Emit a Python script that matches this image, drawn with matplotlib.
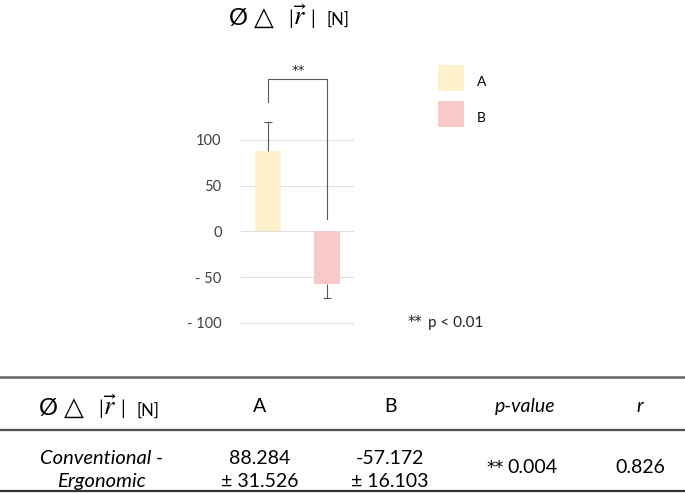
import matplotlib
matplotlib.use('Agg')
import matplotlib.pyplot as plt
from matplotlib.lines import Line2D
from matplotlib.patches import Rectangle
from matplotlib.legend_handler import HandlerPatch

plt.rcParams['font.family'] = ['Lato', 'DejaVu Sans']
plt.rcParams['mathtext.fontset'] = 'stix'

# ---- data ----
categories = ['A', 'B']
means = [88.284, -57.172]
sds = [31.526, 16.103]
bar_colors = ['#FFF1CE', '#F9C8C8']
yticks = [100, 50, 0, -50, -100]
ytick_labels = ['100', '50', '0', '- 50', '- 100']
row_label = ['Conventional -', 'Ergonomic']
p_value = 0.004
r_value = 0.826
sig_stars = '**'
sig_note = 'p < 0.01'

W, H = 685, 494
def fx(px):
    return px / W
def fy(py):
    return 1 - py / H

fig = plt.figure(figsize=(6.85, 4.94), dpi=100)
ax = fig.add_axes([fx(241), fy(336.5), fx(354) - fx(241), fy(71.2) - fy(336.5)])

xs = [0, 1]
bar_patches = []
for i in range(2):
    b = ax.bar(xs[i], means[i], width=0.44, color=bar_colors[i], label=categories[i], zorder=2)
    bar_patches.append(b.patches[0])

# one-sided error bars (cap only at the far end)
for i in range(2):
    if means[i] >= 0:
        yerr = [[0], [sds[i]]]
    else:
        yerr = [[sds[i]], [0]]
    eb = ax.errorbar(xs[i], means[i], yerr=yerr, fmt='none', ecolor='#595959',
                     elinewidth=0.8, capsize=2.6, capthick=0.8, zorder=3)
    for cap in eb[1]:
        if abs(cap.get_ydata()[0] - means[i]) < 1e-9:
            cap.set_visible(False)

ax.set_xlim(-0.467, 1.465)
ax.set_ylim(-115, 175)
ax.set_yticks(yticks)
ax.set_yticklabels(ytick_labels)
ax.set_xticks([])
ax.yaxis.grid(True, color='#E0E0E0', lw=0.8)
ax.set_axisbelow(True)
for s in ax.spines.values():
    s.set_visible(False)
ax.tick_params(axis='y', length=0, pad=14, labelsize=10.5, labelcolor='#404040')

# significance bracket
ax.plot([0, 0, 1, 1], [141.6, 167, 167, 13.8], color='#595959', lw=0.8,
        clip_on=False, zorder=4)
ax.text(0.51, 168.5, sig_stars, ha='center', va='bottom', fontsize=9.5, color='#222222',
        family='DejaVu Sans')

# legend with square handles
shift_pt = 3.76 * 72 / 100
def make_rect(legend, orig_handle, xdescent, ydescent, width, height, fontsize):
    return Rectangle((-xdescent, -ydescent + shift_pt), width, height)

ax.legend(handles=bar_patches, labels=categories, loc='upper left',
          bbox_to_anchor=(fx(438), fy(68.8)),
          bbox_transform=fig.transFigure, frameon=False, fontsize=10,
          handlelength=1.87, handleheight=2.5, handletextpad=0.94,
          labelspacing=0.72, borderpad=0, borderaxespad=0,
          handler_map={Rectangle: HandlerPatch(patch_func=make_rect)})

fig.text(fx(408), fy(327), sig_stars, fontsize=10.5, va='baseline', ha='left', color='#222222',
         family='DejaVu Sans')
fig.text(fx(428), fy(327), sig_note, fontsize=11, va='baseline', ha='left', color='#222222')

def rvec_label(x0, ybase):
    fig.text(fx(x0), fy(ybase), 'Ø', fontsize=17, va='baseline', ha='left')
    fig.text(fx(x0 + 25), fy(ybase), '△', fontsize=18.5, va='baseline', ha='left',
             family='DejaVu Sans')
    fig.text(fx(x0 + 59), fy(ybase), '|', fontsize=13.5, va='baseline', ha='left')
    fig.text(fx(x0 + 64), fy(ybase), r'$\vec{r}$', fontsize=19, va='baseline', ha='left')
    fig.text(fx(x0 + 81), fy(ybase), '|', fontsize=13.5, va='baseline', ha='left')
    fig.text(fx(x0 + 97), fy(ybase), '[N]', fontsize=12, va='baseline', ha='left')

rvec_label(229.3, 25)

# ---- table ----
fig.add_artist(Line2D([0, 1], [fy(376.5)] * 2, transform=fig.transFigure, color='#666666', lw=1.8))
fig.add_artist(Line2D([0, 1], [fy(429.5)] * 2, transform=fig.transFigure, color='#505050', lw=1.6))
fig.add_artist(Line2D([0, 1], [fy(491)] * 2, transform=fig.transFigure, color='#333333', lw=1.6))

rvec_label(39.3, 415.3)
ts = 14
col_x = [260, 390, 525, 640]
fig.text(fx(col_x[0]), fy(411.7), categories[0], fontsize=ts, ha='center', va='baseline')
fig.text(fx(col_x[1]), fy(411.7), categories[1], fontsize=ts, ha='center', va='baseline')
fig.text(fx(col_x[2]), fy(411.7), 'p-value', fontsize=ts, ha='center', va='baseline', style='italic')
fig.text(fx(col_x[3]), fy(411.7), 'r', fontsize=ts, ha='center', va='baseline', style='italic')

fig.text(fx(102), fy(463.8), row_label[0], fontsize=14.5, ha='center', va='baseline', style='italic')
fig.text(fx(101), fy(487.3), row_label[1], fontsize=14.5, ha='center', va='baseline', style='italic')
for i in range(2):
    fig.text(fx(col_x[i]), fy(463.5), f'{means[i]:.3f}', fontsize=ts, ha='center', va='baseline')
    fig.text(fx(col_x[i]), fy(487.2), f'± {sds[i]:.3f}', fontsize=ts, ha='center', va='baseline')
fig.text(fx(486), fy(473.3), sig_stars, fontsize=12.5, ha='left', va='baseline',
         family='DejaVu Sans')
fig.text(fx(507), fy(473.3), f'{p_value:.3f}', fontsize=ts, ha='left', va='baseline')
fig.text(fx(col_x[3]), fy(473.3), f'{r_value:.3f}', fontsize=ts, ha='center', va='baseline')

fig.savefig('out.png', dpi=100)
